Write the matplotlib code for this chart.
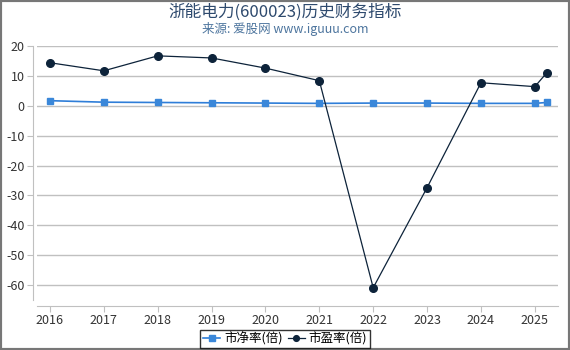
import matplotlib.pyplot as plt
import matplotlib.patches as mpatches

plt.rcParams['font.family'] = ['Noto Sans CJK SC', 'DejaVu Sans']

# data (x in fractional years)
years = [2016.0, 2017.0, 2018.0, 2019.0, 2020.0, 2021.0, 2022.0, 2023.0, 2024.0, 2025.0, 2025.22]
pb = [1.7, 1.2, 1.1, 1.0, 0.9, 0.8, 0.9, 0.9, 0.8, 0.8, 1.1]
pe = [14.4, 11.7, 16.7, 16.0, 12.6, 8.4, -60.9, -27.4, 7.7, 6.4, 11.0]
tick_years = list(range(2016, 2026))
yticks = [20, 10, 0, -10, -20, -30, -40, -50, -60]

fig = plt.figure(figsize=(5.7, 3.5), dpi=100)
ax = fig.add_axes([37 / 570, 1 - 300 / 350, 521 / 570, 254 / 350])

ax.plot(years, pb, color='#2f7ed8', lw=1.2, marker='s', ms=5,
        markerfacecolor='#3a87d9', markeredgecolor='#3a87d9', label='市净率(倍)', zorder=3)
ax.plot(years, pe, color='#0d233a', lw=0.9, marker='o', ms=5.5,
        markerfacecolor='#0d233a', markeredgecolor='#0d233a', label='市盈率(倍)', zorder=4)

ax.set_xlim(2015.76, 2025.43)
ax.set_ylim(-65, 20)
ax.set_yticks(yticks)
ax.set_yticklabels([str(v) for v in yticks], family='DejaVu Sans')
ax.set_xticks(tick_years)
ax.set_xticklabels([str(y) for y in tick_years], family='DejaVu Sans')
ax.grid(axis='y', color='#c0c0c0', lw=1)
ax.set_axisbelow(True)

for s in ['top', 'right']:
    ax.spines[s].set_visible(False)
ax.spines['left'].set_color('#c0c0c0')
ax.spines['bottom'].set_color('#c0c0c0')
ax.spines['left'].set_position(('outward', 3))
ax.spines['bottom'].set_position(('outward', 4))
ax.tick_params(axis='both', colors='#c0c0c0', labelcolor='#333333', labelsize=9, length=4, pad=2)

fig.text(0.5, 1 - 12 / 350, '浙能电力(600023)历史财务指标', ha='center', va='center',
         fontsize=12, color='#2e4a6e')
fig.text(0.5, 1 - 29 / 350, '来源: 爱股网 www.iguuu.com', ha='center', va='center',
         fontsize=9, color='#4d759e')

leg = fig.legend(loc='center', bbox_to_anchor=(0.5, 1 - 339 / 350), ncol=2, fontsize=9,
                 frameon=True, fancybox=False, edgecolor='black', handlelength=1.4,
                 handletextpad=0.3, columnspacing=0.4, borderpad=0.2, markerscale=0.75)
leg.get_frame().set_linewidth(1)

fig.patches.append(mpatches.Rectangle((0, 0), 1, 1, transform=fig.transFigure,
                                      fill=False, edgecolor='#777777', lw=3))

fig.savefig('out.png', dpi=100)
